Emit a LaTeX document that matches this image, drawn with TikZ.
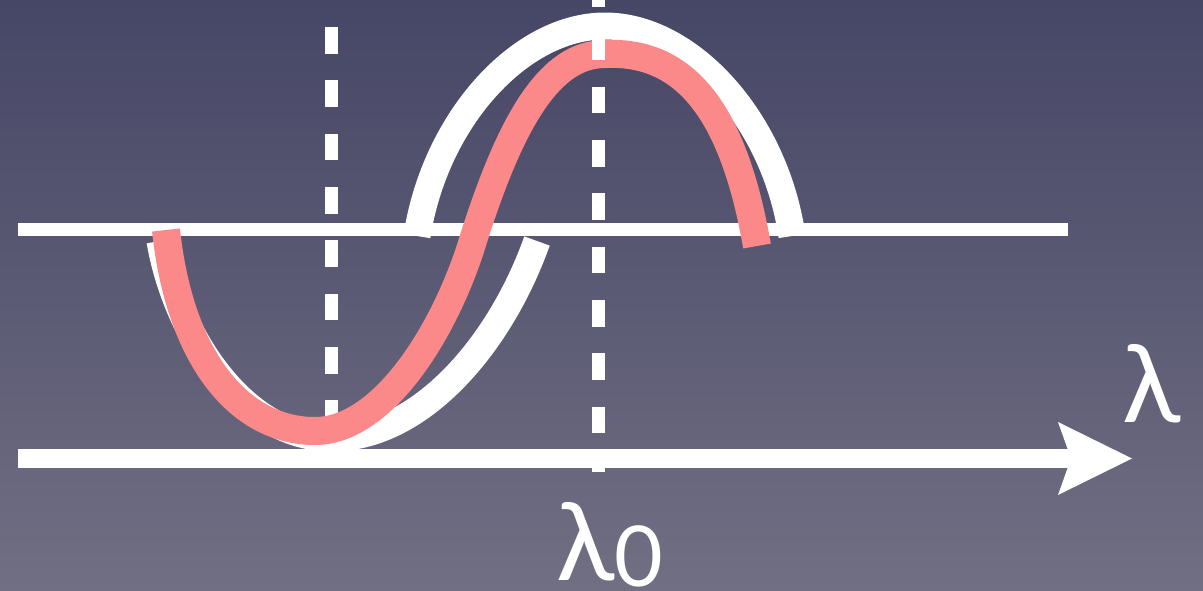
\documentclass[tikz,border=0pt]{standalone}
\usepackage{fontspec}
\setmainfont{Lato}
\usepackage{tikz}
\usetikzlibrary{arrows.meta}
\definecolor{bgtop}{RGB}{70,70,102}
\definecolor{bgbottom}{RGB}{113,111,131}
\definecolor{salmon}{RGB}{252,137,137}
\begin{document}
\begin{tikzpicture}[x=1pt, y=-1pt,
    level/.style={draw=white, line width=13pt},
    axisline/.style={draw=white, line width=19pt, -{Stealth[length=74pt, width=73pt, inset=13pt, line width=0pt]}},
    guide/.style={draw=white, line width=13pt, dash pattern=on 26.67pt off 26.67pt},
    whitewave/.style={draw=white, line width=27pt},
    redwave/.style={draw=salmon, line width=28pt},
    glyph/.style={text=white, inner sep=0pt, font=\fontsize{108}{108}\selectfont}
]
\shade[top color=bgtop, bottom color=bgbottom] (0,0) rectangle (1203,590);
\useasboundingbox (0,0) rectangle (1203,590);
\coordinate (levelstart) at (18,229.5);
\coordinate (levelend) at (1068,229.5);
\coordinate (axisstart) at (18,458.5);
\coordinate (axisend) at (1132,458.5);
\coordinate (guidetop) at (331.5,27);
\coordinate (guidebottom) at (331.5,427);
\coordinate (peaktop) at (598.5,-20);
\coordinate (peakbottom) at (598.5,472);
\coordinate (troughstart) at (160,241);
\coordinate (trough) at (330,438);
\coordinate (troughend) at (537,241);
\coordinate (archstart) at (417,236);
\coordinate (arch) at (605,26);
\coordinate (archend) at (792,236);
\coordinate (shiftstart) at (166,230);
\coordinate (shiftlow) at (315,431);
\coordinate (shiftmid) at (470,250);
\coordinate (shifthigh) at (605,54);
\coordinate (shiftend) at (757,246);
\draw[level] (levelstart) -- (levelend);
\draw[guide] (guidetop) -- (guidebottom);
\draw[whitewave] (troughstart) .. controls (175,330) and (240,437) .. (trough)
    .. controls (420,439) and (500,345) .. (troughend);
\draw[whitewave] (archstart) .. controls (435,120) and (520,26) .. (arch)
    .. controls (690,26) and (775,120) .. (archend);
\draw[redwave] (shiftstart) .. controls (180,360) and (240,431) .. (shiftlow)
    .. controls (380,431) and (440,340) .. (shiftmid)
    .. controls (510,120) and (550,54) .. (shifthigh)
    .. controls (690,50) and (735,120) .. (shiftend);
\draw[guide] (peaktop) -- (peakbottom);
\draw[axisline] (axisstart) -- (axisend);
\node[glyph, anchor=base west] (lambda) at (1122,422) {λ};
\node[glyph, anchor=base west] (lambdazero) at (556,580) {λ\raisebox{-6pt}{\fontsize{84}{84}\selectfont 0}};
\end{tikzpicture}
\end{document}
